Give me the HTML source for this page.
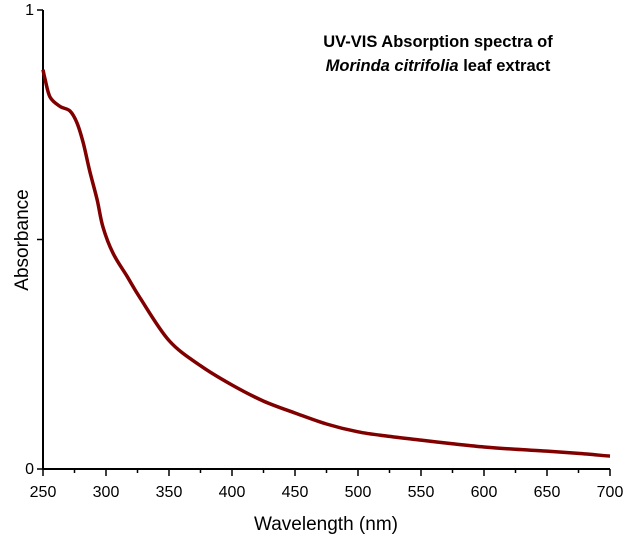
<!DOCTYPE html>
<html><head><meta charset="utf-8"><style>
body{margin:0;background:#fff;}
svg{display:block;font-family:"Liberation Sans",sans-serif;}
</style></head><body>
<svg id="chart" width="636" height="537">
<g id="axes"></g>
<text x="438" y="47" text-anchor="middle" font-size="16.5" font-weight="bold">UV-VIS Absorption spectra of</text>
<text x="438" y="71" text-anchor="middle" font-size="16.5" font-weight="bold"><tspan font-style="italic">Morinda citrifolia</tspan> leaf extract</text>
<text x="326" y="530" text-anchor="middle" font-size="19">Wavelength (nm)</text>
<text transform="translate(28,240) rotate(-90)" text-anchor="middle" font-size="19">Absorbance</text>
</svg>
<script>
const wavelengths=[250,251.6,255.6,263.5,271.4,277,282,287,293,297.6,305.6,316.7,327,350,375,400,425,450,475,500,525,550,575,600,625,650,675,700];
const absorbance=[0.87,0.85,0.81,0.79,0.78,0.754,0.71,0.65,0.586,0.527,0.47,0.42,0.373,0.28,0.225,0.183,0.148,0.122,0.098,0.081,0.071,0.063,0.055,0.048,0.043,0.039,0.034,0.028];
const xTicks=[250,300,350,400,450,500,550,600,650,700];
const yTicks=[0,0.5,1];
const yTickLabels=["0","","1"];
const ns="http://www.w3.org/2000/svg";
const X0=43,X1=610,Y0=469,Y1=10;
const xs=v=>X0+(v-250)/450*(X1-X0);
const ys=v=>Y0-v*(Y0-Y1);
const g=document.getElementById('axes');
function mk(t,a){const e=document.createElementNS(ns,t);for(const k in a)e.setAttribute(k,a[k]);g.appendChild(e);return e;}
let ax=mk('line',{x1:X0,y1:Y0,x2:X1,y2:Y0,stroke:'#000','stroke-width':2});


let ay=mk('line',{x1:X0,y1:Y0,x2:X0,y2:Y1,stroke:'#000','stroke-width':2});


for(let v=250;v<=700;v+=25){
 const major=(v%50===0);
 const t=mk('line',{x1:xs(v),y1:Y0,x2:xs(v),y2:Y0+(major?7:4),stroke:'#000','stroke-width':1.5});
 
 
}
xTicks.forEach(v=>{
 const t=mk('text',{x:xs(v),y:Y0+28,'text-anchor':'middle','font-size':16});
 t.textContent=v;
 
 
});
yTicks.forEach((v,i)=>{
 const t=mk('line',{x1:X0-6,y1:ys(v),x2:X0,y2:ys(v),stroke:'#000','stroke-width':1.5});
 
 
 if(yTickLabels[i]){
  const l=mk('text',{x:X0-9,y:ys(v)+5,'text-anchor':'end','font-size':16});
  l.textContent=yTickLabels[i];
  
  
 }
});
const pts=wavelengths.map((w,i)=>[xs(w),ys(absorbance[i])]);
let d='M'+pts[0][0].toFixed(1)+','+pts[0][1].toFixed(1);
for(let i=0;i<pts.length-1;i++){
 const p0=pts[Math.max(0,i-1)],p1=pts[i],p2=pts[i+1],p3=pts[Math.min(pts.length-1,i+2)];
 const c1=[p1[0]+(p2[0]-p0[0])/6,p1[1]+(p2[1]-p0[1])/6];
 const c2=[p2[0]-(p3[0]-p1[0])/6,p2[1]-(p3[1]-p1[1])/6];
 d+='C'+c1.map(n=>n.toFixed(1)).join(',')+' '+c2.map(n=>n.toFixed(1)).join(',')+' '+p2.map(n=>n.toFixed(1)).join(',');
}
const p=mk('path',{d:d,fill:'none',stroke:'#800000','stroke-width':3.5,'stroke-linejoin':'round'});


</script>
</body></html>
